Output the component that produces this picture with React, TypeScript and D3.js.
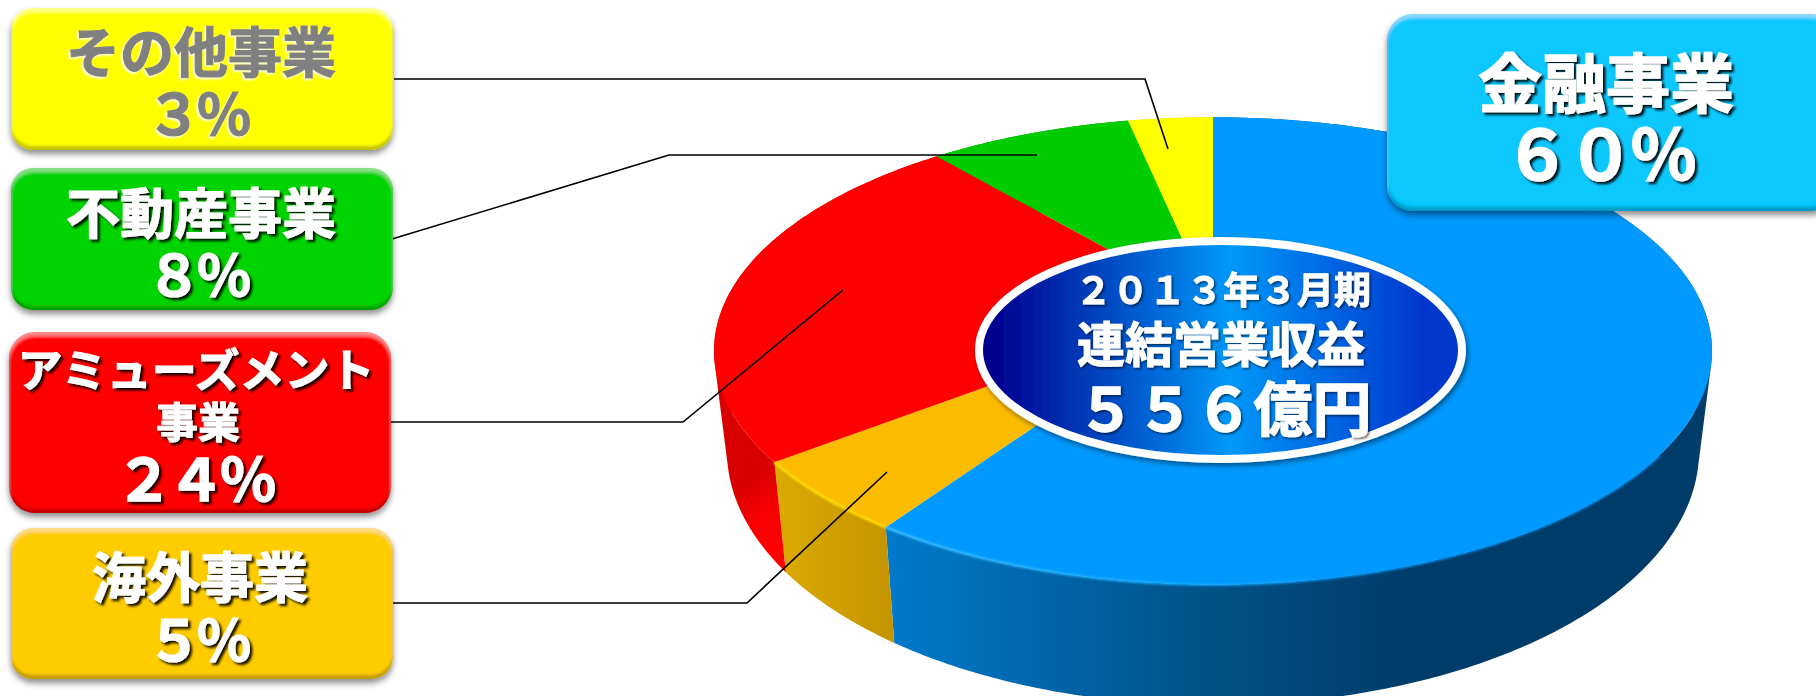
import { useMemo } from "react";
import * as d3 from "d3";

// values, clockwise from 12 o'clock
const segments = ["金融事業", "海外事業", "アミューズメント事業", "不動産事業", "その他事業"];
const shares = [59.5, 5.0, 24.3, 7.9, 3.3];
const shareLabels = ["６０％", "５％", "２４％", "８％", "３％"];
const centerLines = ["２０１３年３月期", "連結営業収益", "５５６億円"];

const topColors = ["#0099ff", "#fbbc00", "#ff0000", "#00cc00", "#ffff00"];
const rimColors = ["url(#rimBlue)", "#ffdc00"];
const wallColors = ["url(#wallBlue)", "url(#wallOrange)", "url(#wallRed)", "#009900", "#cccc00"];

const FONT = "'Noto Sans CJK JP', sans-serif";

// perspective of the disc: both rims are the same circle seen through this
const TILT = 0.192;
const topRim = { x0: 1213, y0: 306, ax: 489.7, ay: 225 };
const lowRim = { x0: 1213, y0: 402, ax: 477, ay: 245 };

type Rim = typeof topRim;
type Pt = [number, number];

const project = (angle: number, rim: Rim): Pt => {
    const u = Math.sin(angle);
    const v = Math.cos(angle);
    const w = 1 + TILT * v;
    return [rim.x0 + (rim.ax * u) / w, rim.y0 - (rim.ay * v) / w];
};

const angleSteps = (start: number, end: number) => d3.range(start, end, 0.01).concat(end);

const arcPoints = (start: number, end: number, rim: Rim) =>
    angleSteps(start, end).map((a) => project(a, rim));

const line = d3.line();

// the wall is a ruled surface built from quads; all quads wind the same way,
// otherwise they cancel out where the surface folds at the far left and right
const wallPath = (start: number, end: number) =>
    d3
        .pairs(angleSteps(start, end))
        .map(([a, b]) => {
            const quad: Pt[] = [project(a, topRim), project(b, topRim), project(b, lowRim), project(a, lowRim)];
            if (d3.polygonArea(quad) < 0) quad.reverse();
            return line(quad) + "Z";
        })
        .join("");

const boxes = [
    { x: 1387, y: 14, w: 450, h: 197, r: 26, fill: "#10c8ff" },
    { x: 11, y: 528, w: 382, h: 151, r: 22, fill: "#ffcc00" },
    { x: 9, y: 332, w: 382, h: 181, r: 26, fill: "#ff0000" },
    { x: 11, y: 168, w: 382, h: 142, r: 22, fill: "#00d400" },
    { x: 11, y: 8, w: 382, h: 142, r: 22, fill: "#ffff00" },
];

const leaders: Pt[][] = [
    [[394, 79], [1145, 79], [1168, 149]],
    [[392, 239], [669, 155], [1037, 155]],
    [[391, 422], [683, 422], [843, 290]],
    [[393, 603], [747, 603], [887, 472]],
];

type Label = { t: string; x: number; y: number; size: number; sp?: number; kind?: string };

const labels: Label[] = [
    { t: segments[4], x: 201, y: 73, size: 54, kind: "gray" },
    { t: shareLabels[4], x: 196, y: 135, size: 56, sp: -6, kind: "gray" },
    { t: segments[3], x: 201, y: 234, size: 54 },
    { t: shareLabels[3], x: 196, y: 296, size: 56, sp: -6 },
    { t: "アミューズメント", x: 196, y: 387, size: 45 },
    { t: "事業", x: 198, y: 438, size: 42 },
    { t: shareLabels[2], x: 193, y: 501, size: 58, sp: -6 },
    { t: "海外事業", x: 200, y: 598, size: 54 },
    { t: shareLabels[1], x: 196, y: 661, size: 56, sp: -6 },
    { t: segments[0], x: 1606, y: 107, size: 64 },
    { t: shareLabels[0], x: 1598, y: 180, size: 68, sp: -5 },
    { t: centerLines[0], x: 1223, y: 304, size: 37, kind: "center" },
    { t: centerLines[1], x: 1221, y: 362, size: 48, kind: "center" },
    { t: centerLines[2], x: 1224, y: 431, size: 59, kind: "center" },
];

const textFilters: Record<string, string> = {
    gray: "url(#whiteText)",
    center: "url(#centerText)",
};

export default function App() {
    const slices = useMemo(
        () =>
            d3
                .pie<number>()
                .sort(null)
                .value((d) => d)(shares),
        []
    );

    return (
        <svg
            width={1816}
            height={696}
            viewBox="0 0 1816 696"
            style={{ position: "absolute", left: 0, top: 0, display: "block", background: "#fff" }}
        >
            <defs>
                <linearGradient id="wallBlue" gradientUnits="userSpaceOnUse" x1="885" y1="0" x2="1420" y2="0">
                    <stop offset="0" stopColor="#007acc" />
                    <stop offset="0.6" stopColor="#005288" />
                    <stop offset="1" stopColor="#003c69" />
                </linearGradient>
                <linearGradient id="wallOrange" gradientUnits="userSpaceOnUse" x1="775" y1="0" x2="893" y2="0">
                    <stop offset="0" stopColor="#dcaa00" />
                    <stop offset="1" stopColor="#c49400" />
                </linearGradient>
                <linearGradient id="wallRed" gradientUnits="userSpaceOnUse" x1="720" y1="440" x2="790" y2="540">
                    <stop offset="0.4" stopColor="#d80000" />
                    <stop offset="0.75" stopColor="#ff0000" />
                </linearGradient>
                <linearGradient id="rimBlue" gradientUnits="userSpaceOnUse" x1="885" y1="0" x2="1400" y2="0">
                    <stop offset="0" stopColor="#3cbcff" />
                    <stop offset="0.6" stopColor="#10a8ff" />
                    <stop offset="1" stopColor="#0099ff" />
                </linearGradient>
                <linearGradient id="centerFill" x1="0" y1="0" x2="1" y2="0">
                    <stop offset="0.03" stopColor="#000090" />
                    <stop offset="0.52" stopColor="#0098fa" />
                    <stop offset="0.92" stopColor="#0038cc" />
                </linearGradient>
                <filter id="soft" x="-5%" y="-5%" width="110%" height="110%">
                    <feGaussianBlur stdDeviation="0.9" />
                </filter>
                <filter id="bevel" x="-5%" y="-10%" width="110%" height="125%">
                    <feOffset in="SourceAlpha" dy="4" result="down" />
                    <feGaussianBlur in="down" stdDeviation="1.5" result="downBlur" />
                    <feComposite in="SourceAlpha" in2="downBlur" operator="out" result="topMask" />
                    <feFlood floodColor="#fff" floodOpacity="0.25" />
                    <feComposite in2="topMask" operator="in" result="light" />
                    <feOffset in="SourceAlpha" dy="-4" result="up" />
                    <feGaussianBlur in="up" stdDeviation="1.5" result="upBlur" />
                    <feComposite in="SourceAlpha" in2="upBlur" operator="out" result="lowMask" />
                    <feFlood floodColor="#000" floodOpacity="0.45" />
                    <feComposite in2="lowMask" operator="in" result="dark" />
                    <feDropShadow in="SourceGraphic" dx="0" dy="4" stdDeviation="3" floodColor="#000" floodOpacity="0.45" result="base" />
                    <feMerge>
                        <feMergeNode in="base" />
                        <feMergeNode in="light" />
                        <feMergeNode in="dark" />
                    </feMerge>
                </filter>
                <filter id="darkText" x="-10%" y="-20%" width="120%" height="150%">
                    <feDropShadow dx="2.5" dy="2.5" stdDeviation="1" floodColor="#000" floodOpacity="0.9" />
                </filter>
                <filter id="centerText" x="-10%" y="-20%" width="120%" height="150%">
                    <feDropShadow dx="1.5" dy="1.5" stdDeviation="0.8" floodColor="#000" floodOpacity="0.6" />
                </filter>
                <filter id="whiteText" x="-10%" y="-20%" width="120%" height="150%">
                    <feDropShadow dx="-1.5" dy="1.5" stdDeviation="1" floodColor="#fff" floodOpacity="1" />
                </filter>
                <filter id="centerShadow" x="-5%" y="-10%" width="110%" height="125%">
                    <feDropShadow dx="2" dy="3" stdDeviation="2.5" floodColor="#000" floodOpacity="0.45" />
                </filter>
            </defs>

            {/* side walls */}
            {slices.map((s, i) => (
                <path key={segments[i]} d={wallPath(s.startAngle, s.endAngle)} fill={wallColors[i]} />
            ))}

            {/* top face */}
            {slices.map((s, i) => (
                <path
                    key={segments[i]}
                    d={line(([[topRim.x0, topRim.y0]] as Pt[]).concat(arcPoints(s.startAngle, s.endAngle, topRim))) + "Z"}
                    fill={topColors[i]}
                />
            ))}

            {/* rim highlight, near edge only */}
            {slices.slice(0, 2).map((s, i) => (
                <path
                    key={segments[i]}
                    d={line(arcPoints(Math.max(s.startAngle, 2.2), s.endAngle, topRim)) ?? ""}
                    fill="none"
                    stroke={rimColors[i]}
                    strokeWidth={2.5}
                    filter="url(#soft)"
                />
            ))}

            {leaders.map((pts, i) => (
                <path key={i} d={line(pts) ?? ""} fill="none" stroke="#000" strokeWidth={1.6} />
            ))}

            {boxes.map((b) => (
                <rect
                    key={b.y + b.x}
                    x={b.x}
                    y={b.y}
                    width={b.w}
                    height={b.h}
                    rx={b.r}
                    fill={b.fill}
                    filter="url(#bevel)"
                />
            ))}

            <ellipse
                cx={1220.5}
                cy={350}
                rx={241.5}
                ry={109}
                fill="url(#centerFill)"
                stroke="#fff"
                strokeWidth={8}
                filter="url(#centerShadow)"
            />

            {labels.map((l) => {
                const color = l.kind === "gray" ? "#808080" : "#fff";
                return (
                    <text
                        key={l.t + l.y}
                        x={l.x}
                        y={l.y}
                        textAnchor="middle"
                        fontFamily={FONT}
                        fontWeight={700}
                        fontSize={l.size}
                        letterSpacing={l.sp ?? 0}
                        fill={color}
                        stroke={color}
                        strokeWidth={l.size * 0.022}
                        filter={textFilters[l.kind ?? ""] ?? "url(#darkText)"}
                    >
                        {l.t}
                    </text>
                );
            })}
        </svg>
    );
}
